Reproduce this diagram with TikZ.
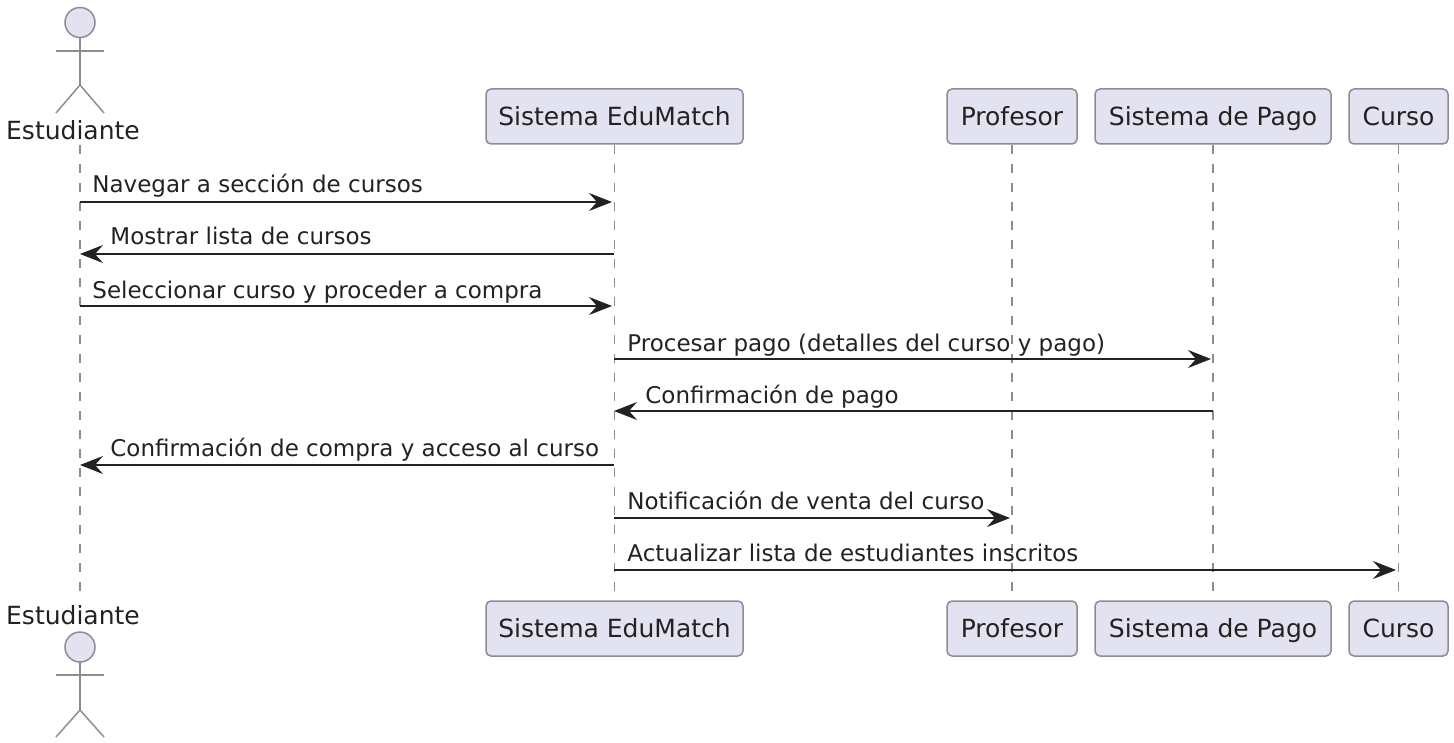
\documentclass[tikz,border=0pt]{standalone}
\usepackage{fontspec}
\setmainfont{DejaVu Sans}
\usetikzlibrary{arrows.meta}
\definecolor{boxfill}{HTML}{E2E2F0}
\definecolor{boxline}{HTML}{8C8C94}
\definecolor{inkdark}{HTML}{222222}
\tikzset{
    box/.style={draw=boxline, fill=boxfill, line width=0.75pt, rounded corners=2.5pt, minimum height=27.5pt, inner sep=0pt, text height=10.6pt, text depth=2pt, text=inkdark, font=\fontsize{12.5}{15}\selectfont},
    actorname/.style={text=inkdark, inner sep=0pt, font=\fontsize{12.5}{15}\selectfont},
    msglabel/.style={text=inkdark, inner sep=0pt, anchor=base west, font=\fontsize{11.5}{14}\selectfont},
    lifeline/.style={draw=boxline, line width=0.6pt, dash pattern=on 4.5pt off 5pt},
    msg/.style={draw=inkdark, line width=0.8pt, -{Stealth[length=11.5pt, width=9pt, inset=4pt]}},
    limb/.style={draw=boxline, line width=0.75pt}
}
\begin{document}
\begin{tikzpicture}[x=0.5pt, y=-0.5pt]
    \useasboundingbox (0,0) rectangle (1454,743);

    % Participants, top row
    \node[actorname] (estTop) at (73,130) {Estudiante};
    \node[box, minimum width=128.5pt] (sisTop) at (614.5,116.5) {Sistema EduMatch};
    \node[box, minimum width=65pt] (profTop) at (1012,116.5) {Profesor};
    \node[box, minimum width=118pt] (pagoTop) at (1213,116.5) {Sistema de Pago};
    \node[box, minimum width=49.5pt] (cursoTop) at (1398.5,116.5) {Curso};

    % Participants, bottom row
    \node[actorname] (estBot) at (73,615) {Estudiante};
    \node[box, minimum width=128.5pt] (sisBot) at (614.5,628.5) {Sistema EduMatch};
    \node[box, minimum width=65pt] (profBot) at (1012,628.5) {Profesor};
    \node[box, minimum width=118pt] (pagoBot) at (1213,628.5) {Sistema de Pago};
    \node[box, minimum width=49.5pt] (cursoBot) at (1398.5,628.5) {Curso};

    % Lifelines
    \coordinate (estA) at (80,145);
    \coordinate (estB) at (80,600);
    \draw[lifeline] (estA) -- (estB);
    \draw[lifeline] (sisTop.south) -- (sisBot.north);
    \draw[lifeline] (profTop.south) -- (profBot.north);
    \draw[lifeline] (pagoTop.south) -- (pagoBot.north);
    \draw[lifeline] (cursoTop.south) -- (cursoBot.north);

    % Actor on top
    \draw[limb, fill=boxfill] (80,22.5) circle (7.5pt);
    \draw[limb] (80,37.5) -- (80,85);
    \draw[limb] (56,51) -- (104,51);
    \draw[limb] (56,113) -- (80,85) -- (104,113);

    % Actor at the bottom
    \draw[limb, fill=boxfill] (80,647) circle (7.5pt);
    \draw[limb] (80,662) -- (80,710);
    \draw[limb] (56,675) -- (104,675);
    \draw[limb] (56,737) -- (80,710) -- (104,737);

    % Message ends
    \coordinate (est1) at (80,202);  \coordinate (sis1) at (612,202);
    \coordinate (est2) at (80,254);  \coordinate (sis2) at (614,254);
    \coordinate (est3) at (80,306);  \coordinate (sis3) at (612,306);
    \coordinate (sis4) at (614,359); \coordinate (pago4) at (1211,359);
    \coordinate (sis5) at (614,411); \coordinate (pago5) at (1213,411);
    \coordinate (est6) at (80,465);  \coordinate (sis6) at (614,465);
    \coordinate (sis7) at (614,518); \coordinate (prof7) at (1010,518);
    \coordinate (sis8) at (614,570); \coordinate (curso8) at (1396,570);

    % Messages
    \draw[msg] (est1) -- (sis1);
    \draw[msg] (sis2) -- (est2);
    \draw[msg] (est3) -- (sis3);
    \draw[msg] (sis4) -- (pago4);
    \draw[msg] (pago5) -- (sis5);
    \draw[msg] (sis6) -- (est6);
    \draw[msg] (sis7) -- (prof7);
    \draw[msg] (sis8) -- (curso8);

    % Message labels
    \node[msglabel] (lab1) at (92,192) {Navegar a sección de cursos};
    \node[msglabel] (lab2) at (110,244) {Mostrar lista de cursos};
    \node[msglabel] (lab3) at (92,298) {Seleccionar curso y proceder a compra};
    \node[msglabel] (lab4) at (627,351) {Procesar pago (detalles del curso y pago)};
    \node[msglabel] (lab5) at (645,403) {Confirmación de pago};
    \node[msglabel] (lab6) at (110,456) {Confirmación de compra y acceso al curso};
    \node[msglabel] (lab7) at (627,509) {Notificación de venta del curso};
    \node[msglabel] (lab8) at (627,561) {Actualizar lista de estudiantes inscritos};

\end{tikzpicture}
\end{document}
